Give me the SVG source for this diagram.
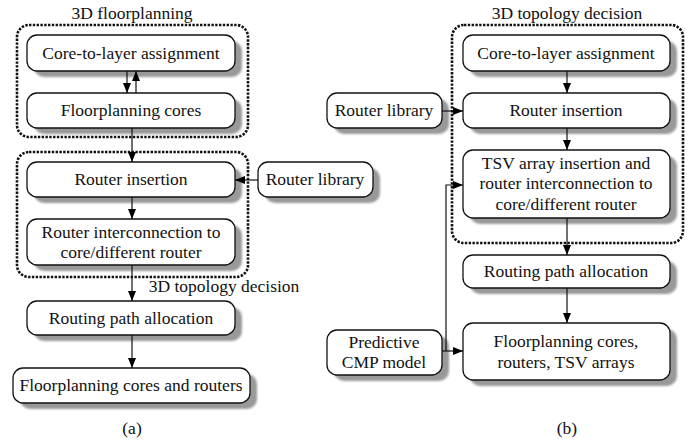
<svg xmlns="http://www.w3.org/2000/svg" width="693" height="445" viewBox="0 0 693 445">
  <defs>
    <marker id="arrow" viewBox="0 0 10 8" refX="10" refY="4" markerWidth="10" markerHeight="8" markerUnits="userSpaceOnUse" orient="auto">
      <path d="M0,0 L10,4 L0,8 Z" fill="#000"/>
    </marker>
    <filter id="soft" x="-10%" y="-10%" width="120%" height="130%">
      <feGaussianBlur stdDeviation="0.8"/>
    </filter>
  </defs>
  <style>
    text { font-size: 17.5px; fill: #111; text-anchor: middle; }
    .shadow { fill: #999; filter: url(#soft); }
    .box { fill: #fff; stroke: #111; stroke-width: 1.3; }
    .group { fill: none; stroke: #111; stroke-width: 2.6; stroke-dasharray: 2.4 1.4; }
    .link { fill: none; stroke: #111; stroke-width: 1.2; marker-end: url(#arrow); }
  </style>
  <rect width="693" height="445" fill="#fff"/>

  <g font-family="'Liberation Serif', 'DejaVu Serif', serif">
  <!-- panel (a) -->
  <g id="a-floorplanning-group">
    <rect class="group" x="17" y="25" width="231" height="112" rx="12"/>
    <text x="132" y="19">3D floorplanning</text>
  </g>
  <g id="a-topology-group">
    <rect class="group" x="17" y="152" width="231" height="125" rx="12"/>
    <text x="224" y="292">3D topology decision</text>
  </g>
  <g id="a-core-to-layer">
    <rect class="shadow" x="34" y="41" width="208" height="36" rx="10"/>
    <rect class="box" x="27" y="35" width="208" height="36" rx="10"/>
    <text x="131" y="59">Core-to-layer assignment</text>
  </g>
  <g id="a-floorplanning-cores">
    <rect class="shadow" x="34" y="99" width="208" height="35" rx="10"/>
    <rect class="box" x="27" y="93" width="208" height="35" rx="10"/>
    <text x="131" y="116">Floorplanning cores</text>
  </g>
  <g id="a-router-insertion">
    <rect class="shadow" x="34" y="168" width="208" height="35" rx="10"/>
    <rect class="box" x="27" y="162" width="208" height="35" rx="10"/>
    <text x="131" y="185">Router insertion</text>
  </g>
  <g id="a-router-library">
    <rect class="shadow" x="265" y="168" width="115" height="35" rx="10"/>
    <rect class="box" x="258" y="162" width="115" height="35" rx="10"/>
    <text x="315" y="185">Router library</text>
  </g>
  <g id="a-router-interconnection">
    <rect class="shadow" x="34" y="225" width="208" height="46" rx="10"/>
    <rect class="box" x="27" y="219" width="208" height="46" rx="10"/>
    <text x="131" y="238">Router interconnection to</text>
    <text x="131" y="258">core/different router</text>
  </g>
  <g id="a-routing-path">
    <rect class="shadow" x="34" y="307" width="208" height="34" rx="10"/>
    <rect class="box" x="27" y="301" width="208" height="34" rx="10"/>
    <text x="131" y="324">Routing path allocation</text>
  </g>
  <g id="a-floorplanning-final">
    <rect class="shadow" x="20" y="374" width="237" height="35" rx="10"/>
    <rect class="box" x="13" y="368" width="237" height="35" rx="10"/>
    <text x="131" y="391">Floorplanning cores and routers</text>
  </g>
  <text x="132" y="434">(a)</text>

  <!-- panel (b) -->
  <g id="b-topology-group">
    <rect class="group" x="452" y="25" width="231" height="218" rx="12"/>
    <text x="567" y="19">3D topology decision</text>
  </g>
  <g id="b-core-to-layer">
    <rect class="shadow" x="470" y="41" width="207" height="36" rx="10"/>
    <rect class="box" x="463" y="35" width="207" height="36" rx="10"/>
    <text x="566" y="59">Core-to-layer assignment</text>
  </g>
  <g id="b-router-insertion">
    <rect class="shadow" x="470" y="99" width="207" height="35" rx="10"/>
    <rect class="box" x="463" y="93" width="207" height="35" rx="10"/>
    <text x="566" y="116">Router insertion</text>
  </g>
  <g id="b-router-library">
    <rect class="shadow" x="334" y="99" width="115" height="35" rx="10"/>
    <rect class="box" x="327" y="93" width="115" height="35" rx="10"/>
    <text x="384" y="116">Router library</text>
  </g>
  <g id="b-tsv-insertion">
    <rect class="shadow" x="470" y="156" width="207" height="68" rx="10"/>
    <rect class="box" x="463" y="150" width="207" height="68" rx="10"/>
    <text x="566" y="169">TSV array insertion and</text>
    <text x="566" y="189">router interconnection to</text>
    <text x="566" y="210">core/different router</text>
  </g>
  <g id="b-routing-path">
    <rect class="shadow" x="470" y="261" width="207" height="33" rx="10"/>
    <rect class="box" x="463" y="255" width="207" height="33" rx="10"/>
    <text x="566" y="277">Routing path allocation</text>
  </g>
  <g id="b-floorplanning-final">
    <rect class="shadow" x="470" y="329" width="207" height="57" rx="10"/>
    <rect class="box" x="463" y="323" width="207" height="57" rx="10"/>
    <text x="566" y="347">Floorplanning cores,</text>
    <text x="566" y="368">routers, TSV arrays</text>
  </g>
  <g id="b-predictive-model">
    <rect class="shadow" x="334" y="336" width="115" height="45" rx="10"/>
    <rect class="box" x="327" y="330" width="115" height="45" rx="10"/>
    <text x="384" y="348">Predictive</text>
    <text x="384" y="368">CMP model</text>
  </g>
  <text x="567" y="434">(b)</text>
  </g>

  <!-- connectors -->
  <g id="connectors">
    <!-- (a) -->
    <line class="link" x1="127" y1="71" x2="127" y2="93"/>
    <line class="link" x1="136" y1="93" x2="136" y2="71"/>
    <line class="link" x1="132" y1="128" x2="132" y2="162"/>
    <line class="link" x1="258" y1="180" x2="235" y2="180"/>
    <line class="link" x1="132" y1="197" x2="132" y2="219"/>
    <line class="link" x1="132" y1="265" x2="132" y2="301"/>
    <line class="link" x1="132" y1="335" x2="132" y2="368"/>
    <!-- (b) -->
    <line class="link" x1="567" y1="71" x2="567" y2="93"/>
    <line class="link" x1="442" y1="111" x2="463" y2="111"/>
    <line class="link" x1="567" y1="128" x2="567" y2="150"/>
    <line class="link" x1="567" y1="218" x2="567" y2="255"/>
    <line class="link" x1="567" y1="288" x2="567" y2="323"/>
    <line class="link" x1="442" y1="351" x2="463" y2="351"/>
    <path class="link" d="M446,351 L446,185 L463,185"/>
  </g>
</svg>
